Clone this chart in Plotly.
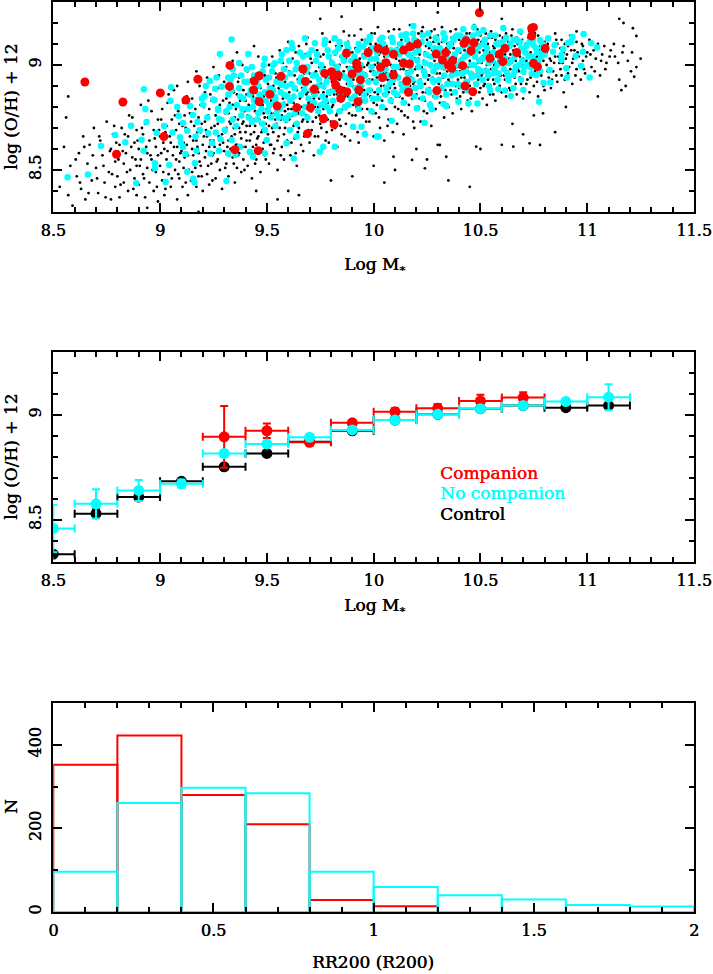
import plotly.graph_objects as go

W, H = 713, 974

# ---------------- Panel 1 data: log M* vs log(O/H)+12 ----------------
control_pts = [
(8.53,8.42),(8.55,8.61),(8.57,8.38),(8.58,8.52),(8.59,8.33),(8.57,8.85),(8.56,8.75),
(8.61,8.47),(8.62,8.58),(8.63,8.41),(8.64,8.66),(8.65,8.36),(8.66,8.53),(8.67,8.62),(8.68,8.45),(8.69,8.70),
(8.70,8.51),(8.71,8.39),(8.72,8.64),(8.73,8.57),(8.74,8.44),(8.75,8.73),(8.76,8.49),(8.77,8.36),(8.77,8.60),(8.78,8.67),(8.79,8.42),(8.79,8.54),
(8.80,8.47),(8.81,8.62),(8.81,8.37),(8.82,8.70),(8.83,8.53),(8.83,8.44),(8.84,8.58),(8.85,8.66),(8.85,8.40),(8.86,8.50),(8.87,8.75),(8.87,8.56),(8.88,8.46),(8.88,8.63),(8.89,8.38),(8.89,8.69),(8.89,8.52),
(8.90,8.60),(8.90,8.43),(8.91,8.81),(8.91,8.55),(8.92,8.48),(8.92,8.67),(8.93,8.37),(8.93,8.72),(8.94,8.58),(8.94,8.51),(8.95,8.64),(8.95,8.44),(8.96,8.78),(8.96,8.55),(8.97,8.69),(8.97,8.40),(8.98,8.61),(8.98,8.49),(8.99,8.74),(8.99,8.57),(8.99,8.35),
(9.00,8.66),(9.00,8.52),(9.01,8.45),(9.01,8.79),(9.02,8.60),(9.02,8.38),(9.03,8.71),(9.03,8.55),(9.04,8.48),(9.04,8.86),(9.05,8.63),(9.05,8.42),(9.06,8.68),(9.06,8.57),(9.07,8.50),(9.07,8.76),(9.08,8.61),(9.08,8.36),(9.08,8.90),(9.09,8.54),(9.09,8.72),(9.09,8.46),(9.10,8.65),(9.10,8.59),
(9.11,8.82),(9.11,8.51),(9.11,8.63),(9.12,8.44),(9.12,8.70),(9.13,8.57),(9.13,8.92),(9.13,8.38),(9.14,8.66),(9.14,8.77),(9.15,8.49),(9.15,8.60),(9.15,8.84),(9.16,8.54),(9.16,8.71),(9.17,8.42),(9.17,8.64),(9.17,8.97),(9.18,8.58),(9.18,8.75),(9.18,8.47),(9.19,8.68),(9.19,8.81),(9.19,8.52),(9.20,8.62),(9.20,8.40),
(9.21,8.73),(9.21,8.56),(9.21,8.87),(9.22,8.48),(9.22,8.66),(9.22,8.94),(9.23,8.61),(9.23,8.79),(9.23,8.43),(9.24,8.70),(9.24,8.53),(9.24,8.83),(9.25,8.64),(9.25,8.58),(9.25,8.99),(9.26,8.76),(9.26,8.46),(9.26,8.68),(9.27,8.55),(9.27,8.89),(9.27,8.72),(9.28,8.62),(9.28,8.50),(9.28,8.81),(9.29,8.67),(9.29,8.41),(9.29,8.74),(9.30,8.59),(9.30,8.92),
(9.31,8.70),(9.31,8.53),(9.31,8.84),(9.32,8.64),(9.32,8.77),(9.32,8.47),(9.33,8.90),(9.33,8.60),(9.33,8.72),(9.34,8.56),(9.34,8.81),(9.34,9.02),(9.35,8.67),(9.35,8.44),(9.35,8.75),(9.36,8.62),(9.36,8.86),(9.36,8.51),(9.37,8.70),(9.37,8.94),(9.37,8.58),(9.38,8.79),(9.38,8.65),(9.38,8.49),(9.39,8.73),(9.39,8.88),(9.39,8.55),(9.40,8.68),(9.40,8.83),(9.40,8.61),(9.36,9.06),
(9.41,8.76),(9.41,8.52),(9.41,8.97),(9.42,8.64),(9.42,8.86),(9.42,8.71),(9.43,8.58),(9.43,8.80),(9.43,8.46),(9.44,8.68),(9.44,8.92),(9.44,8.74),(9.45,8.62),(9.45,8.84),(9.45,8.55),(9.46,8.78),(9.46,9.04),(9.46,8.66),(9.47,8.72),(9.47,8.49),(9.47,8.89),(9.48,8.60),(9.48,8.81),(9.48,8.69),(9.49,8.95),(9.49,8.57),(9.49,8.75),(9.50,8.65),(9.50,8.87),(9.50,8.79),(9.44,9.09),
(9.51,8.71),(9.51,8.53),(9.51,9.00),(9.52,8.83),(9.52,8.62),(9.52,8.77),(9.53,8.90),(9.53,8.68),(9.53,8.58),(9.54,8.74),(9.54,8.96),(9.54,8.85),(9.55,8.64),(9.55,8.50),(9.55,8.80),(9.56,8.70),(9.56,9.07),(9.56,8.88),(9.57,8.61),(9.57,8.76),(9.57,8.93),(9.58,8.67),(9.58,8.82),(9.58,8.55),(9.59,8.73),(9.59,8.99),(9.59,8.86),(9.60,8.79),(9.60,8.63),(9.60,9.11),
(9.61,8.91),(9.61,8.69),(9.61,8.57),(9.62,8.76),(9.62,9.03),(9.62,8.84),(9.63,8.65),(9.63,8.95),(9.63,8.72),(9.64,8.81),(9.64,8.52),(9.64,8.88),(9.65,8.70),(9.65,9.09),(9.65,8.77),(9.66,8.62),(9.66,8.98),(9.66,8.85),(9.67,8.74),(9.67,8.92),(9.67,8.59),(9.68,8.80),(9.68,9.05),(9.68,8.67),(9.69,8.87),(9.69,8.73),(9.69,9.13),(9.70,8.83),(9.70,8.63),(9.70,8.96),
(9.71,8.78),(9.71,9.01),(9.71,8.69),(9.72,8.90),(9.72,8.57),(9.72,8.84),(9.73,8.75),(9.73,9.10),(9.73,8.97),(9.74,8.66),(9.74,8.87),(9.74,8.80),(9.75,9.04),(9.75,8.72),(9.75,8.93),(9.76,8.60),(9.76,8.82),(9.76,9.15),(9.77,8.89),(9.77,8.76),(9.77,8.99),(9.78,8.68),(9.78,9.07),(9.78,8.85),(9.79,8.79),(9.79,8.94),(9.79,8.63),(9.80,9.02),(9.80,8.73),(9.80,8.88),
(9.81,8.96),(9.81,8.81),(9.81,9.12),(9.82,8.70),(9.82,8.91),(9.82,9.05),(9.83,8.77),(9.83,8.86),(9.83,8.61),(9.84,9.00),(9.84,8.93),(9.84,8.74),(9.85,9.09),(9.85,8.83),(9.85,8.67),(9.86,8.97),(9.86,8.89),(9.86,9.16),(9.87,8.79),(9.87,9.03),(9.87,8.72),(9.88,8.94),(9.88,8.85),(9.88,9.11),(9.89,8.64),(9.89,8.99),(9.89,8.81),(9.90,9.06),(9.90,8.90),(9.90,8.76),
(9.91,8.95),(9.91,9.14),(9.91,8.70),(9.92,8.87),(9.92,9.02),(9.92,8.80),(9.93,9.09),(9.93,8.92),(9.93,8.63),(9.94,8.98),(9.94,8.84),(9.94,9.17),(9.95,8.75),(9.95,9.05),(9.95,8.90),(9.96,8.96),(9.96,8.68),(9.96,9.12),(9.97,8.86),(9.97,9.00),(9.97,8.79),(9.98,9.08),(9.98,8.93),(9.98,8.73),(9.99,9.03),(9.99,8.88),(9.99,9.15),(10.00,8.82),(10.00,8.97),(10.00,8.66),
(10.01,9.10),(10.01,8.91),(10.01,8.77),(10.02,9.01),(10.02,8.86),(10.02,9.18),(10.03,8.95),(10.03,8.70),(10.03,9.06),(10.04,8.83),(10.04,8.99),(10.04,9.13),(10.05,8.90),(10.05,8.64),(10.05,9.04),(10.06,8.79),(10.06,8.96),(10.06,9.09),(10.07,8.87),(10.07,9.16),(10.07,8.74),(10.08,9.00),(10.08,8.93),(10.08,8.84),(10.09,9.11),(10.09,8.68),(10.09,9.05),(10.10,8.89),(10.10,8.97),(10.10,8.80),
(10.11,9.08),(10.11,8.94),(10.11,8.72),(10.12,9.02),(10.12,8.85),(10.12,9.17),(10.13,8.91),(10.13,9.12),(10.13,8.78),(10.14,8.98),(10.14,8.67),(10.14,9.06),(10.15,8.88),(10.15,9.14),(10.15,8.82),(10.16,9.01),(10.16,8.95),(10.16,8.75),(10.17,9.10),(10.17,8.90),(10.17,9.19),(10.18,8.84),(10.18,9.04),(10.18,8.97),(10.19,8.70),(10.19,9.13),(10.19,8.92),(10.20,9.07),(10.20,8.86),(10.20,8.99),
(10.21,9.15),(10.21,8.80),(10.21,9.03),(10.22,8.93),(10.22,9.10),(10.22,8.73),(10.23,8.98),(10.23,8.87),(10.23,9.18),(10.24,9.06),(10.24,8.91),(10.24,8.83),(10.25,9.12),(10.25,8.77),(10.25,9.01),(10.26,8.95),(10.26,9.08),(10.26,8.89),(10.27,8.71),(10.27,9.16),(10.27,9.04),(10.28,8.97),(10.28,8.85),(10.28,9.11),(10.29,8.92),(10.29,9.00),(10.29,8.79),(10.30,9.14),(10.30,9.07),(10.30,8.88),
(10.31,8.96),(10.31,9.02),(10.31,8.82),(10.32,9.11),(10.32,8.90),(10.32,9.18),(10.33,8.75),(10.33,9.05),(10.33,8.98),(10.34,8.86),(10.34,9.13),(10.34,9.08),(10.35,8.93),(10.35,8.80),(10.35,9.01),(10.36,9.16),(10.36,8.95),(10.36,8.88),(10.37,9.10),(10.37,9.04),(10.37,8.77),(10.38,8.99),(10.38,8.91),(10.38,9.14),(10.39,8.84),(10.39,9.07),(10.39,8.97),(10.40,9.12),(10.40,8.89),
(10.41,9.03),(10.41,8.94),(10.41,8.79),(10.42,9.09),(10.42,9.17),(10.42,8.87),(10.43,9.00),(10.43,8.92),(10.43,9.13),(10.44,8.83),(10.44,9.06),(10.44,8.97),(10.45,9.15),(10.45,8.90),(10.45,9.02),(10.46,8.78),(10.46,9.10),(10.46,8.95),(10.47,9.05),(10.47,8.86),(10.47,9.19),(10.48,8.99),(10.48,9.08),(10.48,8.82),(10.49,8.93),(10.49,9.12),(10.49,9.01),(10.50,8.89),(10.50,9.14),
(10.51,9.04),(10.51,8.96),(10.51,8.84),(10.52,9.10),(10.52,9.17),(10.52,8.91),(10.53,9.00),(10.53,8.81),(10.53,9.07),(10.54,8.94),(10.54,9.13),(10.54,8.88),(10.55,9.03),(10.55,8.98),(10.55,9.16),(10.56,8.86),(10.56,9.09),(10.56,8.93),(10.57,9.01),(10.57,9.12),(10.57,8.83),(10.58,8.96),(10.58,9.06),(10.59,8.90),(10.59,9.14),(10.60,9.02),(10.60,8.87),
(10.61,9.08),(10.61,8.95),(10.62,9.15),(10.62,8.85),(10.62,9.01),(10.63,8.92),(10.63,9.11),(10.64,8.98),(10.64,9.05),(10.64,8.88),(10.65,9.17),(10.65,9.02),(10.66,8.94),(10.66,9.09),(10.67,8.86),(10.67,9.00),(10.67,9.13),(10.68,8.97),(10.68,9.06),(10.69,8.91),(10.69,9.15),(10.70,9.03),(10.70,8.84),
(10.71,8.99),(10.71,9.10),(10.72,8.93),(10.72,9.05),(10.73,8.87),(10.73,9.16),(10.74,9.01),(10.74,8.96),(10.75,9.12),(10.75,8.90),(10.76,9.07),(10.76,9.03),(10.77,8.85),(10.77,9.14),(10.78,8.98),(10.78,9.09),(10.79,8.92),(10.79,9.04),(10.80,9.11),(10.80,8.88),
(10.81,9.00),(10.81,9.06),(10.82,8.94),(10.82,9.13),(10.83,9.02),(10.83,8.89),(10.84,9.09),(10.84,8.97),(10.85,9.15),(10.85,9.04),(10.86,8.92),(10.86,9.10),(10.87,9.01),(10.88,8.95),(10.88,9.12),(10.89,9.06),(10.89,8.87),(10.90,9.03),
(10.91,9.09),(10.91,8.96),(10.92,9.14),(10.93,9.01),(10.93,8.91),(10.94,9.07),(10.95,8.98),(10.95,9.11),(10.96,9.04),(10.97,8.93),(10.98,9.09),(10.98,9.02),(10.99,8.96),(11.00,9.06),
(11.01,9.12),(11.02,8.99),(11.03,9.07),(11.04,9.03),(11.05,9.10),(11.06,8.95),(11.07,9.05),(11.08,9.09),(11.09,9.01),
(11.11,9.07),(11.13,9.04),(11.15,8.93),(11.17,9.09),(11.19,9.02),(11.21,9.06),(11.23,8.99),(11.25,9.03),
(10.25,8.55),(10.35,8.45),(10.10,8.50),(9.90,8.47),(10.60,8.62),(10.70,8.67),(10.50,8.60),(10.85,8.68),(9.80,8.45),(9.60,8.40),
(9.65,8.38),(9.45,8.40),(10.45,8.42),(10.20,8.60),(10.00,8.52),(11.17,9.20),(11.15,9.22),(9.18,8.30),(8.94,8.32),(9.55,8.36),
(10.05,8.44),(10.30,8.62),(10.90,8.80),(10.65,8.72),(10.75,8.76),(11.05,8.85),(11.18,8.90),(9.85,9.23),(10.30,9.25),(9.75,9.22),
(10.60,9.22),(10.95,9.16),(10.093,8.563),(10.18,8.548),(10.24,8.508),(10.34,8.563),(10.31,8.619),(10.654,8.611),(10.73,8.627),
(10.779,8.619),(10.48,8.611),(10.793,8.77),(11.16,8.88),(11.22,8.944),(11.214,9.175),(11.23,9.138),
(8.605,8.55),(8.625,8.44),(8.645,8.61),(8.665,8.39),(8.685,8.57),(8.705,8.46),(8.715,8.66),(8.735,8.52),(8.745,8.37),(8.765,8.59),
(8.775,8.48),(8.785,8.71),(8.795,8.63),(8.805,8.55),(8.815,8.43),(8.825,8.59),(8.835,8.67),(8.845,8.49),(8.855,8.76),(8.865,8.61),
(8.875,8.41),(8.885,8.55),(8.895,8.64),(8.905,8.52),(8.915,8.70),(8.925,8.46),(8.935,8.61),(8.945,8.83),(8.955,8.57),(8.965,8.50),
(8.975,8.65),(8.985,8.42),(8.995,8.69),
(9.005,8.58),(9.005,8.74),(9.015,8.49),(9.015,8.63),(9.025,8.68),(9.025,8.41),(9.035,8.59),(9.035,8.82),(9.045,8.52),(9.045,8.66),
(9.055,8.74),(9.055,8.46),(9.065,8.61),(9.065,8.88),(9.075,8.55),(9.075,8.69),(9.085,8.48),(9.085,8.78),(9.095,8.64),(9.095,8.58),
(9.105,8.71),(9.105,8.42),(9.115,8.56),(9.115,8.76),(9.125,8.62),(9.125,8.85),(9.135,8.50),(9.135,8.69),(9.145,8.73),(9.145,8.45),
(9.155,8.64),(9.155,8.57),(9.165,8.79),(9.165,8.51),(9.175,8.68),(9.175,8.61),(9.185,8.54),(9.185,8.90),(9.195,8.72),(9.195,8.47),
(9.205,8.66),(9.205,8.80),(9.215,8.59),(9.215,8.69),(9.225,8.52),(9.225,8.76),(9.235,8.64),(9.235,8.86),(9.245,8.57),(9.245,8.45),
(9.255,8.71),(9.255,8.61),(9.265,8.79),(9.265,8.54),(9.275,8.66),(9.275,8.95),(9.285,8.59),(9.285,8.74),(9.295,8.83),(9.295,8.63),
(9.305,8.68),(9.305,8.77),(9.305,8.51),(9.315,8.61),(9.315,8.90),(9.325,8.73),(9.325,8.57),(9.325,8.82),(9.335,8.66),(9.335,8.98),
(9.345,8.70),(9.345,8.53),(9.345,8.87),(9.355,8.79),(9.355,8.62),(9.365,8.74),(9.365,8.92),(9.365,8.57),(9.375,8.68),(9.375,8.83),
(9.385,8.61),(9.385,8.72),(9.385,9.00),(9.395,8.78),(9.395,8.50),(9.405,8.86),(9.405,8.71),(9.405,8.64),(9.415,8.58),(9.415,8.81),
(9.425,8.75),(9.425,8.93),(9.425,8.67),(9.435,8.61),(9.435,8.85),(9.445,8.78),(9.445,8.53),(9.445,8.71),(9.455,8.89),(9.455,8.65),
(9.465,8.82),(9.465,8.59),(9.465,8.74),(9.475,8.97),(9.475,8.68),(9.485,8.77),(9.485,8.63),(9.485,8.85),(9.495,8.72),(9.495,8.55),
(9.505,8.91),(9.505,8.75),(9.505,8.67),(9.515,8.80),(9.515,8.62),(9.525,8.86),(9.525,8.70),(9.525,9.04),(9.535,8.77),(9.535,8.60),
(9.545,8.83),(9.545,8.72),(9.545,8.94),(9.555,8.66),(9.555,8.89),(9.565,8.79),(9.565,8.57),(9.565,8.74),(9.575,8.84),(9.575,9.01),
(9.585,8.70),(9.585,8.92),(9.585,8.78),(9.595,8.64),(9.595,8.81),
(9.605,8.87),(9.605,8.74),(9.605,8.97),(9.615,8.79),(9.615,8.63),(9.625,8.90),(9.625,8.71),(9.625,8.82),(9.635,8.58),(9.635,9.06),
(9.645,8.77),(9.645,8.93),(9.645,8.68),(9.655,8.84),(9.655,8.99),(9.665,8.73),(9.665,8.89),(9.665,8.80),(9.675,8.66),(9.675,8.96),
(9.685,8.86),(9.685,8.76),(9.685,9.10),(9.695,8.82),(9.695,8.69),
(9.705,8.92),(9.705,8.78),(9.705,9.03),(9.715,8.86),(9.715,8.73),(9.725,8.96),(9.725,8.80),(9.725,8.66),(9.735,8.89),(9.735,9.07),
(9.745,8.84),(9.745,8.76),(9.745,8.99),(9.755,8.70),(9.755,8.91),(9.765,8.87),(9.765,9.05),(9.765,8.79),(9.775,8.94),(9.775,8.64),
(9.785,8.82),(9.785,8.97),(9.785,8.74),(9.795,9.11),(9.795,8.86),
(9.805,8.92),(9.805,8.80),(9.805,8.69),(9.815,9.00),(9.815,8.86),(9.825,8.95),(9.825,8.76),(9.825,9.09),(9.835,8.83),(9.835,8.97),
(9.845,8.89),(9.845,8.71),(9.845,9.04),(9.855,8.94),(9.855,8.79),(9.865,8.85),(9.865,9.07),(9.865,8.66),(9.875,8.91),(9.875,8.99),
(9.885,8.77),(9.885,8.88),(9.885,9.14),(9.895,8.95),(9.895,8.84),
(9.905,8.99),(9.905,8.81),(9.905,8.93),(9.915,9.08),(9.915,8.76),(9.925,8.90),(9.925,8.97),(9.925,8.68),(9.935,8.86),(9.935,9.03),
(9.945,8.94),(9.945,8.79),(9.945,9.12),(9.955,8.88),(9.955,8.99),(9.965,8.83),(9.965,9.06),(9.965,8.73),(9.975,8.92),(9.975,9.01),
(9.985,8.85),(9.985,8.97),(9.985,9.10),(9.995,8.77),(9.995,8.93),
(10.005,9.00),(10.005,8.87),(10.005,9.15),(10.015,8.94),(10.015,8.81),(10.025,9.05),(10.025,8.97),(10.025,8.75),(10.035,8.90),(10.035,9.11),
(10.045,8.86),(10.045,9.02),(10.045,8.96),(10.055,8.79),(10.055,9.08),(10.065,8.93),(10.065,9.00),(10.065,8.71),(10.075,8.89),(10.075,9.13),
(10.085,8.97),(10.085,8.82),(10.085,9.05),(10.095,8.91),(10.095,9.17),
(10.105,9.03),(10.105,8.85),(10.105,8.95),(10.115,9.10),(10.115,8.79),(10.125,8.98),(10.125,8.90),(10.125,9.06),(10.135,8.84),(10.135,9.01),
(10.145,8.93),(10.145,9.15),(10.145,8.76),(10.155,8.97),(10.155,9.05),(10.165,8.88),(10.165,9.11),(10.165,8.81),(10.175,9.00),(10.175,8.94),
(10.185,9.08),(10.185,8.91),(10.185,8.73),(10.195,9.03),(10.195,8.98),
(10.205,8.89),(10.205,9.12),(10.205,8.95),(10.215,9.05),(10.215,8.84),(10.225,8.99),(10.225,9.16),(10.225,8.91),(10.235,9.02),(10.235,8.78),
(10.245,8.96),(10.245,9.09),(10.245,8.87),(10.255,9.04),(10.255,8.93),(10.265,9.13),(10.265,8.99),(10.265,8.82),(10.275,8.94),(10.275,9.07),
(10.285,9.02),(10.285,8.88),(10.285,9.17),(10.295,8.96),(10.295,9.05),
(10.305,8.91),(10.305,9.10),(10.305,8.99),(10.315,8.85),(10.315,9.06),(10.325,9.00),(10.325,8.94),(10.325,9.15),(10.335,8.88),(10.335,9.03),
(10.345,8.97),(10.345,9.10),(10.345,8.81),(10.355,9.06),(10.355,8.92),(10.365,9.01),(10.365,9.13),(10.365,8.86),(10.375,8.96),(10.375,9.08),
(10.385,9.03),(10.385,8.90),(10.385,9.17),(10.395,8.99),(10.395,8.93),
(10.405,9.06),(10.405,8.97),(10.405,8.85),(10.415,9.11),(10.415,9.01),(10.425,8.94),(10.425,9.07),(10.425,8.89),(10.435,9.04),(10.435,9.15),
(10.445,8.99),(10.445,9.10),(10.445,8.92),(10.455,9.05),(10.455,8.84),(10.465,9.00),(10.465,9.13),(10.465,8.96),(10.475,9.08),(10.475,8.91),
(10.485,9.03),(10.485,9.17),(10.485,8.97),(10.495,9.06),(10.495,8.87),
(10.505,9.01),(10.505,9.11),(10.505,8.95),(10.515,9.07),(10.515,8.90),(10.525,9.04),(10.525,8.98),(10.525,9.15),(10.535,8.93),(10.535,9.10),
(10.545,9.02),(10.545,8.86),(10.545,9.06),(10.555,8.96),(10.555,9.13),(10.565,9.00),(10.565,9.08),(10.565,8.91),(10.575,9.04),(10.575,8.97),
(10.585,9.11),(10.585,8.88),(10.585,9.02),(10.595,8.95),(10.595,9.07),
(10.605,9.00),(10.605,9.13),(10.615,8.93),(10.615,9.05),(10.625,9.09),(10.625,8.97),(10.635,9.03),(10.635,8.89),(10.645,9.01),(10.645,9.14),
(10.655,8.95),(10.655,9.07),(10.665,9.02),(10.665,8.91),(10.675,9.10),(10.675,8.98),(10.685,9.04),(10.685,8.94),(10.695,9.12),(10.695,9.00),
(10.705,8.96),(10.705,9.08),(10.715,9.02),(10.715,8.91),(10.725,9.13),(10.725,8.99),(10.735,9.06),(10.735,8.94),(10.745,9.09),(10.745,9.01),
(10.755,8.97),(10.755,9.15),(10.765,9.04),(10.765,8.92),(10.775,9.07),(10.775,9.00),(10.785,8.95),(10.785,9.12),(10.795,9.02),(10.795,8.90),
(10.805,9.05),(10.815,8.97),(10.815,9.10),(10.825,9.03),(10.835,8.93),(10.835,9.07),(10.845,9.01),(10.855,8.95),(10.855,9.12),(10.865,9.04),
(10.875,8.98),(10.875,9.08),(10.885,9.01),(10.895,8.93),(10.895,9.10),(10.905,9.05),(10.915,8.99),(10.925,9.07),(10.935,9.03),(10.945,8.95),
(10.955,9.06),(10.965,9.00),(10.975,9.10),(10.985,8.98),(10.995,9.04),(11.015,9.05),(11.035,8.97),(11.045,9.08),(11.065,9.02),(11.085,8.98),
(11.105,9.04),(11.125,9.10),(11.145,9.01),(11.165,9.06),(11.205,8.97),
]

nocomp_pts = [
(8.567,8.465),(8.662,8.479),(8.723,8.614),(8.79,8.667),(8.837,8.632),(8.864,8.711),(8.888,8.437),(8.913,8.644),(8.924,8.884),(8.931,8.79),
(8.923,8.592),(8.937,8.729),(8.976,8.532),(8.976,8.508),(8.984,8.676),(9.019,8.709),(9.026,8.443),(9.043,8.524),(9.052,8.894),(9.049,8.83),
(9.058,8.679),(9.08,8.80),(9.087,8.757),(9.093,8.656),(9.097,8.63),(9.108,8.724),(9.108,8.61),(9.119,8.576),(9.127,8.492),(9.127,8.687),
(9.14,8.805),(9.154,8.762),(9.155,8.459),(9.161,8.44),(9.163,8.532),(9.166,8.659),(9.171,8.592),(9.175,8.73),(9.186,8.69),(9.196,8.841),
(9.202,8.811),(9.208,8.852),(9.214,8.90),(9.221,8.75),(9.225,8.675),(9.233,8.924),(9.236,8.579),(9.243,8.63),(9.249,8.836),(9.255,8.833),
(9.258,8.887),(9.261,8.678),(9.264,8.941),(9.271,8.792),(9.275,8.592),(9.275,8.744),(9.28,9.052),(9.283,8.646),
(9.335,9.122),(9.413,9.052),(9.319,8.941),(9.288,8.897),(9.272,8.786),(9.288,8.738),(9.303,8.69),(9.335,8.643),(9.319,8.579),(9.311,8.448),
(9.353,8.571),(9.373,8.611),(9.42,8.587),(9.436,8.563),(9.491,8.579),(9.499,8.643),(9.491,8.69),(9.545,8.77),(9.584,8.746),(9.608,8.69),
(9.639,8.659),(9.626,8.555),(9.592,8.627),(9.537,8.849),(9.569,8.905),(9.537,9.008),(9.592,9.071),(9.616,9.103),(9.678,9.127),(9.725,9.103),
(9.772,9.119),(9.818,9.127),(9.764,8.611),(9.748,8.587),(9.818,8.611),(9.904,8.706),(9.943,8.706),(9.959,8.67),(10.016,8.659),(9.982,9.135),
(10.029,9.119),(9.951,9.087),
(10.186,9.186),(10.152,9.146),(10.022,8.659),(10.085,8.735),(10.238,8.725),(10.202,8.794),(10.272,8.789),(10.264,8.81),(10.327,8.814),(10.339,8.805),
(10.397,8.825),(10.444,8.817),(10.486,8.817),(10.545,8.878),(10.584,8.884),(10.615,8.878),(10.642,8.852),(10.654,8.889),(10.701,8.881),(10.775,8.825),
(10.607,9.176),(10.686,9.159),(10.42,9.17),(10.47,9.179),(10.514,9.167),(10.327,9.151),(10.374,9.127),(10.779,9.119),(10.748,9.095),(10.701,8.968),
(10.654,8.952),(10.631,8.929),
(10.983,9.148),(11.019,9.103),(11.046,9.083),(10.98,9.063),(10.972,8.995),(11.011,8.941),(10.905,8.941),(10.902,8.984),(10.879,9.024),(10.879,9.048),
(10.887,9.075),(10.91,9.106),(10.93,9.135),(10.926,9.111),(10.946,9.043),(10.848,9.095),(10.84,9.063),(10.824,8.976),(10.827,8.917),(10.796,8.914),
(10.817,9.127),(10.785,9.056),(10.793,9.087),(10.762,8.952),
(9.31,8.78),(9.32,8.86),(9.33,8.93),(9.34,8.74),(9.34,8.98),
(9.36,8.81),(9.37,8.89),(9.38,8.76),(9.38,8.95),(9.39,8.84),(9.37,9.01),
(9.41,8.79),(9.41,8.92),(9.42,8.86),(9.43,8.73),(9.43,8.99),(9.44,8.83),(9.44,8.95),
(9.46,8.77),(9.46,8.90),(9.47,8.84),(9.48,8.97),(9.48,8.72),(9.49,8.87),(9.49,9.03),
(9.51,8.81),(9.51,8.94),(9.52,8.75),(9.53,8.88),(9.53,9.00),(9.54,8.84),(9.54,8.71),
(9.56,8.92),(9.56,8.79),(9.57,9.05),(9.58,8.86),(9.58,8.98),(9.59,8.74),(9.59,8.90),
(9.61,8.83),(9.61,8.96),(9.62,9.08),(9.63,8.77),(9.63,8.89),(9.64,9.01),(9.64,8.72),
(9.66,8.86),(9.66,8.94),(9.67,9.04),(9.68,8.80),(9.68,8.91),(9.69,8.75),(9.69,8.99),
(9.71,8.88),(9.71,9.07),(9.72,8.82),(9.73,8.95),(9.73,9.02),(9.74,8.78),(9.74,8.90),
(9.76,8.85),(9.76,8.97),(9.77,9.10),(9.78,8.80),(9.78,8.92),(9.79,9.04),(9.79,8.87),
(9.81,8.95),(9.81,8.83),(9.82,9.06),(9.83,8.90),(9.83,8.99),(9.84,8.78),(9.84,9.11),
(9.86,8.87),(9.86,9.02),(9.87,8.94),(9.88,8.81),(9.88,9.08),(9.89,8.91),(9.89,8.98),
(9.91,8.85),(9.91,9.04),(9.92,8.96),(9.93,8.79),(9.93,9.10),(9.94,8.90),(9.94,9.00),
(9.96,8.83),(9.96,8.95),(9.97,9.06),(9.98,8.88),(9.98,9.12),(9.99,8.99),(9.99,8.78),
(10.01,8.92),(10.01,9.03),(10.02,8.84),(10.03,9.09),(10.03,8.97),(10.04,8.80),(10.04,9.13),
(10.06,8.89),(10.06,9.01),(10.07,8.95),(10.08,9.07),(10.08,8.83),(10.09,9.11),(10.09,8.93),
(10.11,8.86),(10.11,8.99),(10.12,9.05),(10.13,8.91),(10.13,9.14),(10.14,8.82),(10.14,9.02),
(10.16,8.96),(10.16,9.09),(10.17,8.88),(10.18,9.03),(10.18,8.93),(10.19,9.12),(10.19,8.85),
(10.21,8.99),(10.21,9.07),(10.22,8.90),(10.23,9.14),(10.23,8.84),(10.24,9.01),(10.24,8.95),
(10.26,9.10),(10.26,8.87),(10.27,9.04),(10.28,8.97),(10.28,8.92),(10.29,9.13),(10.29,8.85),
(10.31,9.00),(10.31,9.08),(10.32,8.89),(10.33,8.95),(10.33,9.12),(10.34,9.04),(10.34,8.86),
(10.36,8.98),(10.36,9.10),(10.37,8.91),(10.38,9.05),(10.38,8.87),(10.39,9.14),(10.39,8.96),
(10.41,9.02),(10.41,8.90),(10.42,9.09),(10.43,8.97),(10.43,9.13),(10.44,8.88),(10.44,9.05),
(10.46,8.94),(10.46,9.11),(10.47,9.00),(10.48,8.91),(10.48,9.07),(10.49,9.15),(10.49,8.98),
(10.51,9.03),(10.51,8.93),(10.52,9.12),(10.53,8.97),(10.53,9.08),(10.54,9.01),(10.54,8.90),
(10.56,9.06),(10.56,8.96),(10.57,9.14),(10.58,9.00),(10.58,8.93),(10.59,9.10),(10.59,9.04),
(10.61,8.98),(10.61,9.07),(10.62,9.13),(10.63,9.01),(10.63,8.94),(10.64,9.10),
(10.66,9.04),(10.66,8.97),(10.67,9.12),(10.68,9.00),(10.69,9.08),(10.69,8.93),
(10.71,9.06),(10.72,9.00),(10.73,9.11),(10.74,8.96),(10.74,9.04),
(10.76,9.08),(10.77,9.02),(10.78,8.97),(10.79,9.10),(10.80,9.05),
(9.325,8.80),(9.335,8.88),(9.345,8.95),(9.355,8.71),(9.375,8.85),(9.385,8.79),(9.395,8.92),(9.405,8.98),(9.415,8.75),(9.425,8.88),
(9.435,8.80),(9.455,8.93),(9.455,8.74),(9.465,8.86),(9.475,8.79),(9.485,9.00),(9.495,8.83),(9.495,8.93),
(9.505,8.78),(9.515,8.89),(9.525,8.97),(9.535,8.82),(9.545,8.92),(9.555,8.75),(9.565,8.87),(9.565,9.02),(9.575,8.81),(9.585,8.94),
(9.595,8.85),(9.605,9.02),(9.605,8.76),(9.615,8.91),(9.625,8.85),(9.635,8.98),(9.645,8.80),(9.655,8.92),(9.655,9.06),(9.665,8.77),
(9.675,8.88),(9.685,8.97),(9.695,8.84),(9.695,9.05),
(9.705,8.79),(9.715,8.95),(9.725,8.86),(9.735,9.05),(9.745,8.93),(9.755,8.81),(9.755,9.00),(9.765,8.90),(9.775,8.83),(9.785,9.07),
(9.795,8.95),(9.795,8.78),(9.805,9.01),(9.815,8.88),(9.825,8.97),(9.835,9.08),(9.845,8.86),(9.855,8.95),(9.855,9.04),(9.865,8.80),
(9.875,9.10),(9.885,8.93),(9.895,9.02),(9.895,8.84),
(9.905,8.96),(9.915,8.89),(9.925,9.07),(9.935,8.83),(9.945,8.96),(9.955,9.04),(9.955,8.86),(9.965,9.11),(9.975,8.92),(9.985,9.03),
(9.995,8.84),(9.995,9.08),(10.005,8.96),(10.015,9.06),(10.025,8.88),(10.035,9.00),(10.045,9.10),(10.055,8.86),(10.055,8.98),(10.065,9.05),
(10.075,8.91),(10.085,9.13),(10.095,8.99),(10.095,8.87),
(10.105,9.07),(10.115,8.94),(10.125,9.10),(10.135,8.88),(10.145,9.00),(10.155,9.12),(10.155,8.90),(10.165,9.05),(10.175,8.97),(10.185,9.15),
(10.195,8.89),(10.195,9.06),(10.205,9.02),(10.215,8.92),(10.225,9.11),(10.235,8.97),(10.245,9.05),(10.255,8.88),(10.255,9.15),(10.265,9.00),
(10.275,8.93),(10.285,9.08),(10.295,8.99),(10.295,9.12),
(10.305,8.93),(10.315,9.05),(10.325,8.99),(10.335,9.13),(10.345,8.91),(10.355,9.02),(10.355,9.09),(10.365,8.95),(10.375,9.12),(10.385,9.00),
(10.395,8.91),(10.395,9.07),(10.405,9.14),(10.415,8.96),(10.425,9.04),(10.435,8.92),(10.445,9.10),(10.455,9.00),(10.455,8.96),(10.465,9.14),
(10.475,9.04),(10.485,8.95),(10.495,9.09),(10.495,9.02),
(10.505,8.97),(10.515,9.10),(10.525,9.05),(10.535,8.95),(10.545,9.14),(10.555,9.02),(10.565,8.98),(10.575,9.10),(10.585,8.96),(10.595,9.03),
(10.605,9.11),(10.615,9.03),(10.625,8.96),(10.635,9.09),(10.645,9.02),(10.655,9.12),(10.665,8.99),(10.675,9.06),(10.685,9.11),(10.695,9.02),
(10.705,8.99),(10.715,9.09),(10.725,9.04),(10.735,8.99),(10.745,9.12),(10.755,9.02),(10.765,9.06),(10.785,9.04),
]

comp_pts = [
(8.648,8.919),(8.826,8.824),(8.796,8.575),(9.001,8.867),(9.018,8.659),(9.121,8.833),(9.177,8.932),
(9.327,8.998),(9.325,8.898),(9.35,8.597),(9.459,8.592),(9.464,8.949),(9.441,8.924),(9.438,8.881),(9.464,8.825),
(9.514,8.86),(9.548,8.805),(9.566,8.946),(9.64,8.797),(9.669,8.981),(9.681,8.922),(9.69,8.673),(9.704,8.797),
(9.722,8.884),(9.765,8.744),(9.771,8.96),(9.803,8.968),(9.814,8.94),(9.815,8.717),(9.822,8.905),(9.834,8.952),
(9.846,8.841),(9.842,8.881),(9.873,9.056),(9.874,8.873),(9.899,8.957),(9.92,9.008),(9.927,8.984),(9.931,8.881),
(9.927,8.825),(9.938,8.929),(9.974,9.059),(10.021,9.079),(10.032,8.989),(10.041,8.94),
(10.495,9.249),(10.054,9.068),(10.058,9.011),(10.093,9.051),(10.093,8.952),(10.14,9.071),(10.14,9.008),(10.171,9.087),
(10.168,9.005),(10.155,8.924),(10.163,8.87),(10.205,9.1),(10.293,9.052),(10.296,8.878),(10.322,9.024),(10.338,9.059),
(10.35,9.0),(10.366,8.984),(10.37,9.021),(10.417,8.997),(10.428,8.9),(10.423,9.103),(10.433,9.116),(10.456,9.068),
(10.47,9.106),(10.464,8.873),(10.545,9.032),(10.605,9.016),(10.615,9.079),(10.589,9.051),(10.67,9.059),(10.74,9.175),
(10.748,9.179),(10.74,9.138),(10.748,9.008),(10.767,8.992),(10.803,9.079),
]

# ---------------- Panel 2 data: binned medians ----------------
mass_bins = [8.5, 8.7, 8.9, 9.1, 9.3, 9.5, 9.7, 9.9, 10.1, 10.3, 10.5, 10.7, 10.9, 11.1]
bin_halfwidth = 0.1
control_oh = [8.337, 8.530, 8.609, 8.684, 8.753, 8.817, 8.873, 8.925, 8.976, 9.003, 9.030, 9.045, 9.035, 9.045]
control_err = [0.01, 0.02, 0.015, 0.01, 0.012, 0.01, 0.01, 0.008, 0.008, 0.008, 0.008, 0.008, 0.008, 0.01]
nocomp_oh = [8.460, 8.577, 8.641, 8.673, 8.817, 8.862, 8.894, 8.929, 8.976, 9.003, 9.030, 9.045, 9.064, 9.085]
nocomp_err = [0.113, 0.07, 0.05, 0.02, 0.015, 0.01, 0.01, 0.01, 0.01, 0.01, 0.01, 0.01, 0.01, 0.062]
comp_mass = [9.3, 9.5, 9.7, 9.9, 10.1, 10.3, 10.5, 10.7]
comp_oh = [8.896, 8.925, 8.870, 8.963, 9.016, 9.032, 9.067, 9.083]
comp_err = [0.147, 0.035, 0.01, 0.01, 0.016, 0.02, 0.03, 0.025]

legend_labels = ["Companion", "No companion", "Control"]

# ---------------- Panel 3 data: histograms ----------------
r_bin_left = [0.0, 0.2, 0.4, 0.6, 0.8, 1.0, 1.2, 1.4, 1.6, 1.8]
r_bin_width = 0.2
comp_counts = [352, 422, 280, 210, 29, 14, 0, 0, 0, 0]
nocomp_counts = [96, 261, 297, 284, 96, 60, 40, 30, 17, 13]

mass_ticks = [8.5, 9, 9.5, 10, 10.5, 11, 11.5]
mass_ticktext = ["8.5", "9", "9.5", "10", "10.5", "11", "11.5"]
oh_ticks = [8.5, 9]
oh_ticktext = ["8.5", "9"]
r_ticks = [0, 0.5, 1, 1.5, 2]
r_ticktext = ["0", "0.5", "1", "1.5", "2"]
n_ticks = [0, 200, 400]
n_ticktext = ["0", "200", "400"]

RED = "#ff0000"
CYAN = "#00ffff"
BLACK = "#000000"
FONT = "DejaVu Serif"

def tfont(size, color=BLACK):
    return dict(family=FONT, size=size, color=color, shadow="0.5px 0 0 " + color)

fig = go.Figure()

# Panel 1
fig.add_trace(go.Scatter(x=[p[0] for p in control_pts], y=[p[1] for p in control_pts],
                         mode="markers", marker=dict(color=BLACK, size=2.8),
                         xaxis="x", yaxis="y", showlegend=False))
fig.add_trace(go.Scatter(x=[p[0] for p in nocomp_pts], y=[p[1] for p in nocomp_pts],
                         mode="markers", marker=dict(color=CYAN, size=6.5),
                         xaxis="x", yaxis="y", showlegend=False))
fig.add_trace(go.Scatter(x=[p[0] for p in comp_pts], y=[p[1] for p in comp_pts],
                         mode="markers", marker=dict(color=RED, size=9),
                         xaxis="x", yaxis="y", showlegend=False))

# Panel 2
def binned(x, y, err, color):
    return go.Scatter(x=x, y=y, mode="markers",
                      marker=dict(color=color, size=11),
                      error_x=dict(type="constant", value=bin_halfwidth, color=color, thickness=2, width=4),
                      error_y=dict(type="data", array=err, color=color, thickness=2, width=4),
                      xaxis="x2", yaxis="y2", showlegend=False)

fig.add_trace(binned(mass_bins, control_oh, control_err, BLACK))
fig.add_trace(binned(comp_mass, comp_oh, comp_err, RED))
fig.add_trace(binned(mass_bins, nocomp_oh, nocomp_err, CYAN))

# Panel 3
fig.add_trace(go.Bar(x=r_bin_left, y=comp_counts, width=r_bin_width, offset=0,
                     marker=dict(color="rgba(0,0,0,0)", line=dict(color=RED, width=2)),
                     xaxis="x3", yaxis="y3", showlegend=False))
fig.add_trace(go.Bar(x=r_bin_left, y=nocomp_counts, width=r_bin_width, offset=0,
                     marker=dict(color="rgba(0,0,0,0)", line=dict(color=CYAN, width=2)),
                     xaxis="x3", yaxis="y3", showlegend=False))

def px_x(px):
    return px / W

def px_y(py):
    return 1 - py / H

XDOM = [px_x(53.3), px_x(694)]
DOM1 = [px_y(212), px_y(2)]
DOM2 = [px_y(562), px_y(352)]
DOM3 = [px_y(912), px_y(703)]

def axis(rng, tickvals, ticktext, minor_dtick, minor_tick0, domain, anchor, vertical=False):
    d = dict(range=rng, domain=domain, anchor=anchor, automargin=False,
             tickmode="array", tickvals=tickvals, ticktext=ticktext,
             ticks="inside", ticklen=9, tickwidth=1.5, tickcolor=BLACK,
             showline=True, linecolor=BLACK, linewidth=2, mirror="allticks",
             showgrid=False, zeroline=False,
             tickfont=tfont(16),
             minor=dict(tickmode="linear", tick0=minor_tick0, dtick=minor_dtick,
                        ticks="inside", ticklen=5, tickwidth=1.5, tickcolor=BLACK, showgrid=False),
             fixedrange=True)
    if vertical:
        d["tickangle"] = -90
        d["ticklabelstandoff"] = 4
    else:
        d["ticklabelstandoff"] = 3
    return d

fig.update_layout(
    width=W, height=H, margin=dict(l=0, r=0, t=0, b=0, autoexpand=False),
    paper_bgcolor="white", plot_bgcolor="white",
    barmode="overlay",
    xaxis=axis([8.5, 11.5], mass_ticks, mass_ticktext, 0.1, 8.5, XDOM, "y"),
    yaxis=axis([8.3, 9.3], oh_ticks, oh_ticktext, 0.1, 8.3, DOM1, "x", vertical=True),
    xaxis2=axis([8.5, 11.5], mass_ticks, mass_ticktext, 0.1, 8.5, XDOM, "y2"),
    yaxis2=axis([8.3, 9.3], oh_ticks, oh_ticktext, 0.1, 8.3, DOM2, "x2", vertical=True),
    xaxis3=axis([0, 2], r_ticks, r_ticktext, 0.1, 0, XDOM, "y3"),
    yaxis3=axis([0, 500], n_ticks, n_ticktext, 100, 0, DOM3, "x3", vertical=True),
)

def title(text, px, py, angle=0, size=17):
    fig.add_annotation(text=text, x=px_x(px), y=px_y(py), xref="paper", yref="paper",
                       showarrow=False, textangle=angle, xanchor="center", yanchor="middle",
                       font=tfont(size))

title("log (O/H) + 12", 11, 107, angle=-90)
title("Log M<sub>*</sub>", 374, 265)
title("log (O/H) + 12", 11, 457, angle=-90)
title("Log M<sub>*</sub>", 374, 606)
title("N", 11, 807, angle=-90)
title("RR200 (R200)", 373, 962)

legend_colors = [RED, CYAN, BLACK]
legend_y = [8.724, 8.629, 8.529]
for lab, col, yy in zip(legend_labels, legend_colors, legend_y):
    fig.add_annotation(text=lab, x=10.3, y=yy, xref="x2", yref="y2", showarrow=False,
                       xanchor="left", yanchor="middle", font=tfont(17, col))

fig.write_html("out.html", config={"displayModeBar": False},
               post_script="document.body.style.margin='0px';document.body.style.overflow='hidden';")
